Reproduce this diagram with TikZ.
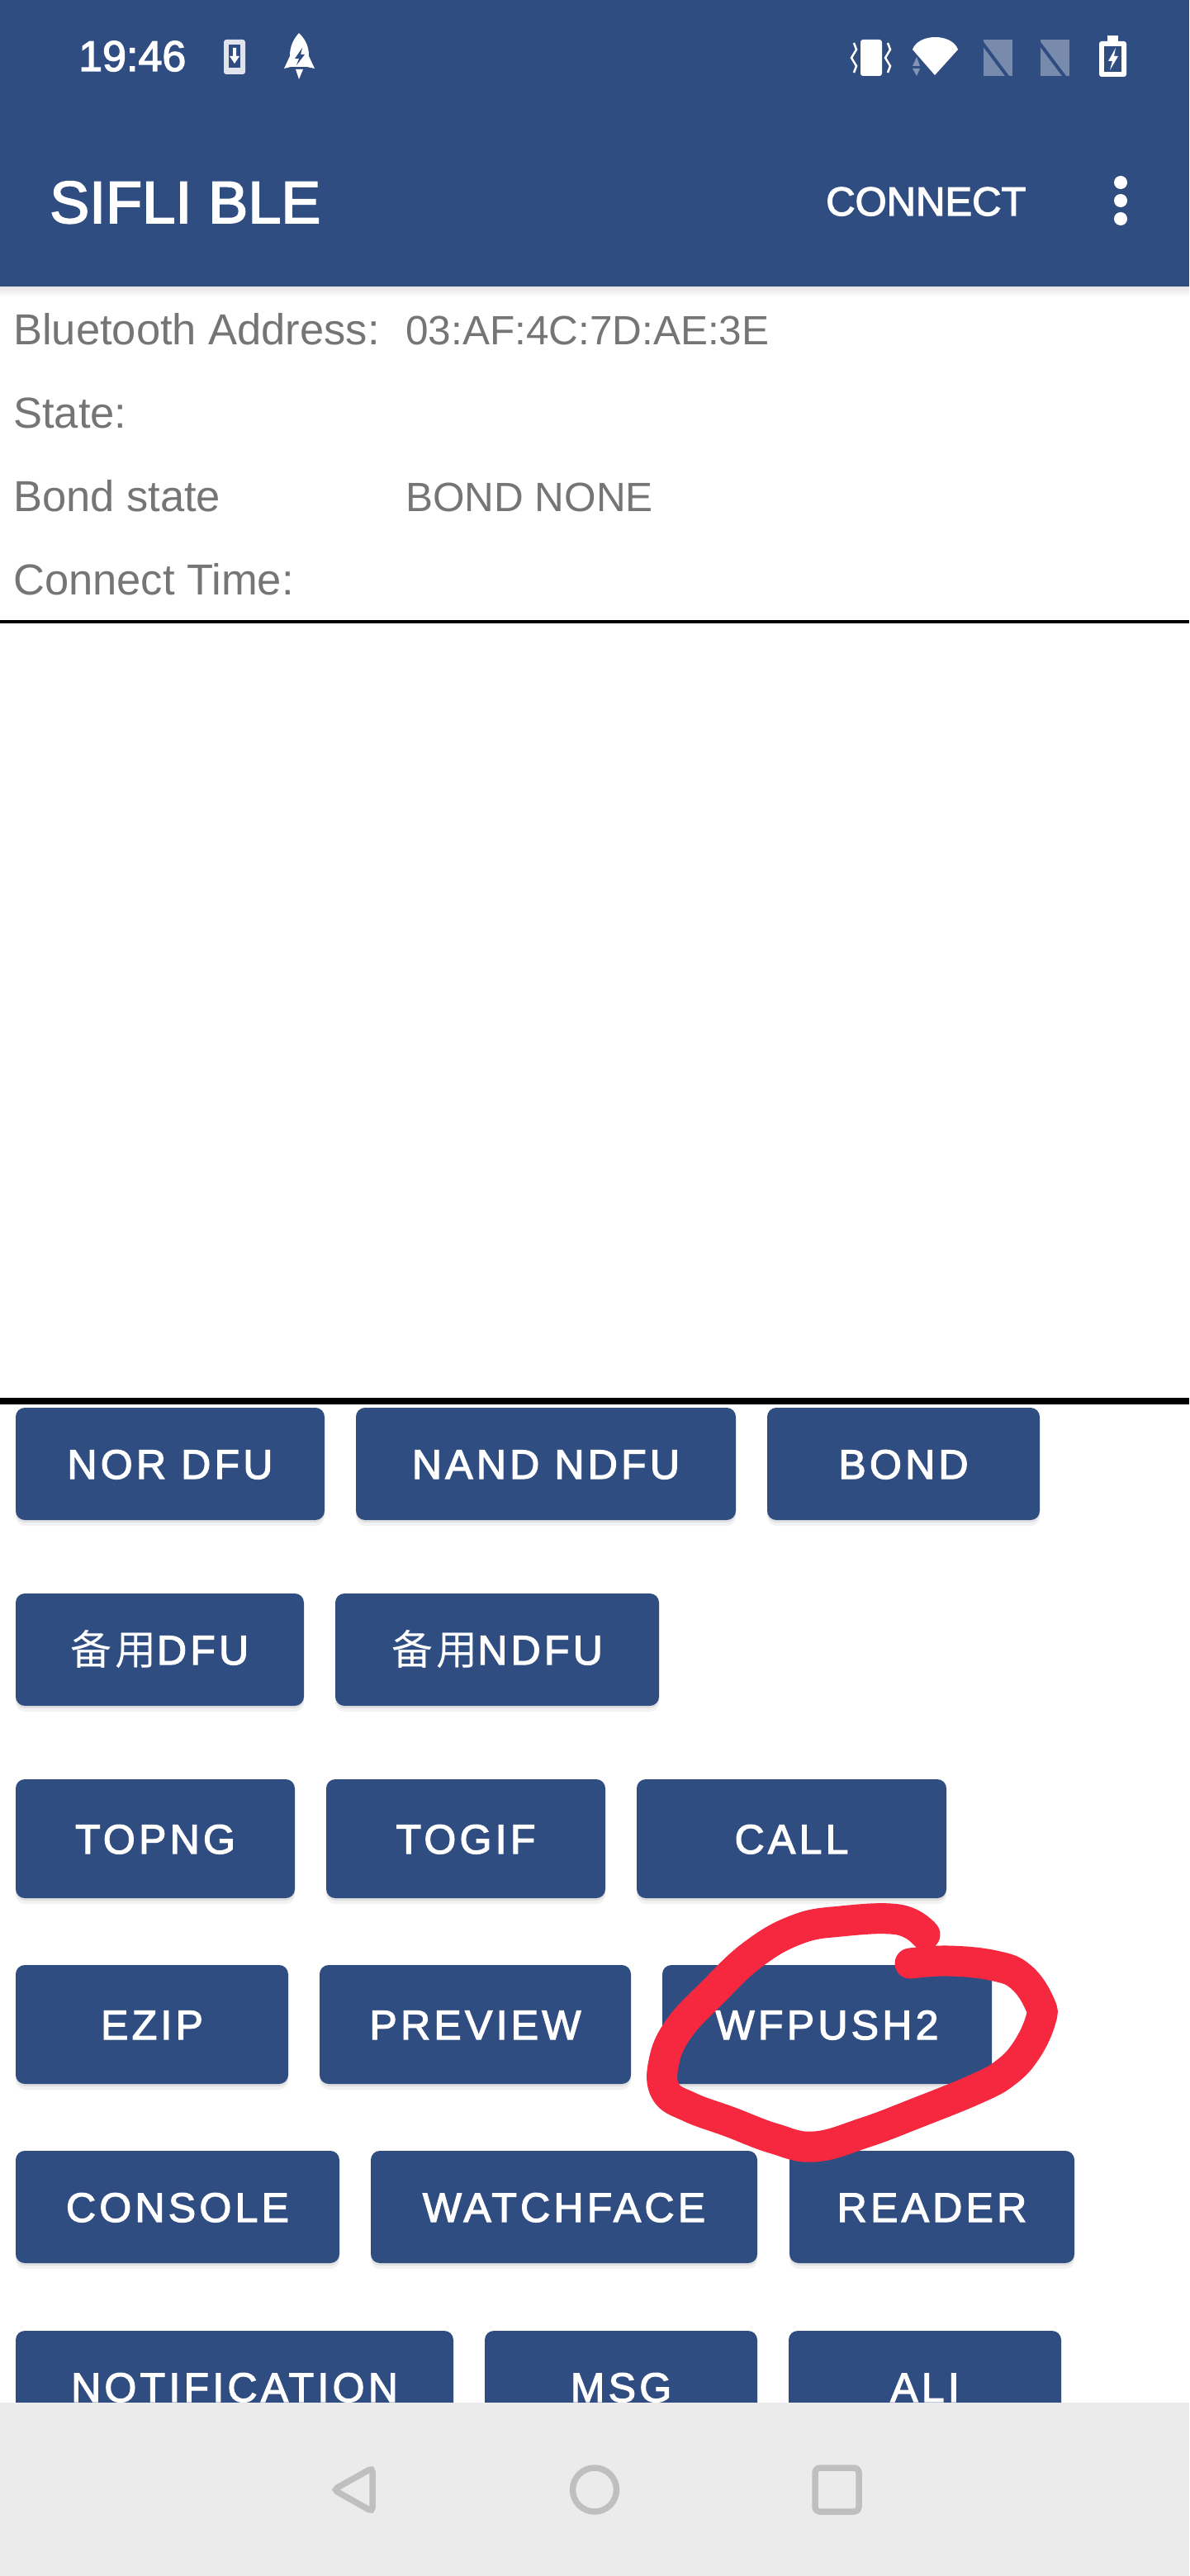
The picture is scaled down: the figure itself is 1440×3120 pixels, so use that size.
\documentclass[tikz,border=0pt]{standalone}
\usepackage{fontspec}
\setmainfont{Liberation Sans}
\newfontfamily\btnfont[LetterSpace=8.5,FakeBold=2.5]{Liberation Sans}
\newfontfamily\cjkfont[LetterSpace=8.5]{Noto Sans CJK SC}
\newfontfamily\barfont[FakeBold=2.5]{Liberation Sans}
\usetikzlibrary{shadows}
\definecolor{barblue}{HTML}{304D82}
\definecolor{labelgrey}{HTML}{757575}
\definecolor{navgrey}{HTML}{EBEBEB}
\definecolor{navicon}{HTML}{BFBFBF}
\definecolor{penred}{HTML}{F5283F}
\tikzset{
  btn/.style={fill=barblue, rounded corners=11pt, text=white, inner sep=0pt,
    minimum height=136pt, text height=36pt, text depth=0pt,
    font=\fontsize{50}{50}\btnfont,
    general shadow={shadow yshift=-3pt, fill=black, opacity=0.07},
    general shadow={shadow yshift=-7pt, fill=black, opacity=0.05}},
  tall/.style={btn, minimum height=144pt},
  info/.style={anchor=base west, inner sep=0pt, text=labelgrey, font=\fontsize{52.5}{53}\selectfont},
  infovalue/.style={info, font=\fontsize{49.5}{53}\selectfont},
  bartext/.style={anchor=base west, inner sep=0pt, text=white},
  navline/.style={draw=navicon, line width=7.5pt}
}
\begin{document}
\begin{tikzpicture}[x=1pt,y=-1pt]
\useasboundingbox (0,0) rectangle (1440,3120);
\fill[white] (0,0) rectangle (1440,3120);

% App bar
\fill[barblue] (0,0) rectangle (1440,347);
\shade[top color=black!10, bottom color=white] (0,347) rectangle (1440,360);
\node[bartext, font=\fontsize{52}{52}\barfont] (clock) at (95,86) {19:46};
\node[bartext, font=\fontsize{72}{72}\barfont] (title) at (60,270) {SIFLI BLE};
\node[bartext, font=\fontsize{49}{49}\barfont] (connect) at (1000,261) {CONNECT};
\foreach \doty in {221,243,265}
  \fill[white] (1357,\doty) circle (8);

% Status icons, left
\fill[white, opacity=0.85, rounded corners=3pt] (271,48) rectangle (297,90);
\fill[barblue] (277,54) rectangle (291,82);
\fill[white] (282,58) rectangle (286,68) (278,68) -- (290,68) -- (284,77) -- cycle;
\fill[white] (362,40) .. controls (370,48) and (374,56) .. (374,68)
  -- (381,83) -- (372,81) -- (352,81) -- (344,83) -- (351,68)
  .. controls (351,56) and (355,48) .. (362,40) -- cycle;
\fill[white] (358,84) -- (367,84) -- (362,96) -- cycle;
\fill[barblue] (366,58) -- (357,71) -- (362,71) -- (359,79) -- (369,66) -- (364,66) -- cycle;

% Status icons, right
\fill[white, rounded corners=3pt] (1042,48) rectangle (1068,92);
\foreach \wavex in {1034,1075}
  \draw[white, line width=2.5pt] (\wavex,52) -- (\wavex+3,60) -- (\wavex-3,70) -- (\wavex+3,80) -- (\wavex,88);
\fill[white] (1132,91) -- (1105,60) .. controls (1112,40) and (1153,40) .. (1160,60) -- cycle;
\fill[white, opacity=0.4] (1105,80) -- (1114,80) -- (1110,69) -- cycle (1105,83) -- (1114,83) -- (1110,92) -- cycle;
\foreach \simx in {1191,1260} {
  \fill[white, opacity=0.35] (\simx,48) -- (\simx+35,48) -- (\simx+35,92) -- (\simx,92) -- cycle;
  \draw[barblue, line width=4pt] (\simx-6,46) -- (\simx+30,94);
}
\fill[white, rounded corners=3pt] (1331,50) rectangle (1364,93);
\fill[white] (1341,43) rectangle (1354,52);
\fill[barblue] (1337,56) rectangle (1358,87);
\fill[white] (1351,58) -- (1342,74) -- (1347,74) -- (1344,85) -- (1354,68) -- (1349,68) -- cycle;

% Info block
\node[info] (addrlabel) at (16,417) {Bluetooth Address:};
\node[infovalue] (addrvalue) at (491,417) {03:AF:4C:7D:AE:3E};
\node[info] (statelabel) at (16,518) {State:};
\node[info] (bondlabel) at (16,619) {Bond state};
\node[infovalue] (bondvalue) at (491,619) {BOND NONE};
\node[info] (timelabel) at (16,720) {Connect Time:};
\fill[black] (0,751) rectangle (1440,754.5);
\fill[black] (0,1693) rectangle (1440,1701);

% Buttons
\node[btn, minimum width=374pt] (nordfu) at (206,1773) {NOR DFU};
\node[btn, minimum width=460pt] (nandndfu) at (661,1773) {NAND NDFU};
\node[btn, minimum width=330pt] (bond) at (1094,1773) {BOND};
\node[btn, minimum width=349pt] (backupdfu) at (193.5,1998) {{\cjkfont 备用}DFU};
\node[btn, minimum width=392pt] (backupndfu) at (602,1998) {{\cjkfont 备用}NDFU};
\node[tall, minimum width=338pt] (topng) at (188,2227) {TOPNG};
\node[tall, minimum width=338pt] (togif) at (564,2227) {TOGIF};
\node[tall, minimum width=375pt] (call) at (958.5,2227) {CALL};
\node[tall, minimum width=330pt] (ezip) at (184,2452) {EZIP};
\node[tall, minimum width=377pt] (preview) at (575.5,2452) {PREVIEW};
\node[tall, minimum width=399pt] (wfpush) at (1001.5,2452) {WFPUSH2};
\node[btn, minimum width=392pt] (console) at (215,2673) {CONSOLE};
\node[btn, minimum width=468pt] (watchface) at (683,2673) {WATCHFACE};
\node[btn, minimum width=345pt] (reader) at (1128.5,2673) {READER};
\node[btn, minimum width=530pt] (notification) at (284,2891) {NOTIFICATION};
\node[btn, minimum width=330pt] (msg) at (752,2891) {MSG};
\node[btn, minimum width=330pt] (ali) at (1120,2891) {ALI};

% Pen mark
\draw[penred, line width=37pt, line cap=round, line join=round] plot[smooth, tension=0.7] coordinates {
  (1102,2378) (1149,2375) (1205,2381) (1237,2395) (1259,2427) (1260,2447) (1243,2483) (1218,2510)
  (1182,2530) (1108,2560) (1047,2583) (986,2600) (937,2590) (884,2570) (835,2552)
  (806,2533) (804,2497) (822,2457) (863,2413) (912,2367) (965,2337) (1018,2327)
  (1088,2325) (1120,2343)};

% Navigation bar
\fill[navgrey] (0,2910) rectangle (1440,3120);
\draw[navline, rounded corners=5pt] (451,2989) -- (404,3015.5) -- (451,3042) -- cycle;
\draw[navline] (720,3015.5) circle (26.5);
\draw[navline, rounded corners=6pt] (987,2989) rectangle (1040,3042);
\end{tikzpicture}
\end{document}
